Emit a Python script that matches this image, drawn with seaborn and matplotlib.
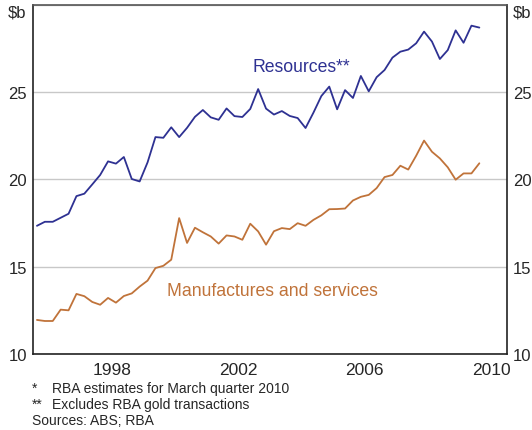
import numpy as np
import pandas as pd
import matplotlib.pyplot as plt
import seaborn as sns

# Quarterly data, March quarter 1996 to March quarter 2010 ($b)
quarters = pd.period_range("1996Q1", "2010Q1", freq="Q")

resources = [17.34, 17.57, 17.57, 17.80, 18.03, 19.04, 19.18, 19.71, 20.25, 21.03,
             20.90, 21.28, 20.02, 19.88, 20.97, 22.42, 22.38, 22.98, 22.42, 22.95,
             23.58, 23.97, 23.55, 23.41, 24.06, 23.62, 23.57, 24.03, 25.17, 24.05,
             23.71, 23.91, 23.63, 23.51, 22.94, 23.82, 24.77, 25.31, 24.01, 25.11,
             24.66, 25.92, 25.04, 25.85, 26.26, 26.97, 27.31, 27.43, 27.79, 28.46,
             27.89, 26.89, 27.40, 28.53, 27.82, 28.80, 28.69]

manufactures = [11.95, 11.89, 11.89, 12.54, 12.50, 13.44, 13.31, 12.98, 12.82, 13.21,
                12.94, 13.32, 13.47, 13.86, 14.20, 14.92, 15.05, 15.40, 17.78, 16.36,
                17.23, 16.97, 16.73, 16.32, 16.79, 16.73, 16.54, 17.46, 17.02, 16.26,
                17.03, 17.21, 17.15, 17.49, 17.34, 17.68, 17.94, 18.29, 18.30, 18.33,
                18.79, 19.00, 19.11, 19.50, 20.13, 20.25, 20.78, 20.56, 21.35, 22.22,
                21.58, 21.20, 20.69, 19.98, 20.34, 20.34, 20.92]

series_names = ["Resources**", "Manufactures and services"]
colors = {"Resources**": "#2e3192", "Manufactures and services": "#c0733a"}

year_pos = quarters.year + (quarters.quarter - 0.5) / 4
df = pd.DataFrame({
    "year": np.concatenate([year_pos, year_pos]),
    "value": resources + manufactures,
    "series": [series_names[0]] * len(resources) + [series_names[1]] * len(manufactures),
})

sns.set_style("white")
plt.rcParams["font.family"] = ["Liberation Sans", "DejaVu Sans"]

fig, ax = plt.subplots(figsize=(5.32, 4.31), dpi=100)
fig.subplots_adjust(left=33 / 532, right=507 / 532, bottom=(431 - 355) / 431, top=(431 - 5.7) / 431)

sns.lineplot(data=df, x="year", y="value", hue="series", palette=colors,
             linewidth=1.3, legend=False, ax=ax, zorder=3)

# Axes ranges and grid
ax.set_xlim(1996, 2011)
ax.set_ylim(10, 30)
ax.set_xlabel("")
ax.set_ylabel("")
ax.yaxis.grid(True, color="#c8c8c8", linewidth=1)
ax.xaxis.grid(False)
ax.set_axisbelow(True)

# Year boundary ticks, labels at mid year
ax.set_xticks(np.arange(1996, 2012))
ax.set_xticklabels([])
ax.tick_params(axis="x", which="major", direction="in", length=5, width=1, color="#222222")
ax.set_xticks([1998.5, 2002.5, 2006.5, 2010.5], minor=True)
ax.set_xticklabels(["1998", "2002", "2006", "2010"], minor=True)
ax.tick_params(axis="x", which="minor", length=0, pad=6, labelsize=12.5)

ax.set_yticks([10, 15, 20, 25, 30])
ax.set_yticklabels(["10", "15", "20", "25", "$b"])
ax.tick_params(axis="y", length=0, pad=4.5, labelsize=12, labelright=True, right=False)
top_tick = ax.yaxis.get_major_ticks()[-1]
top_tick.label1.set_va("top")
top_tick.label2.set_va("top")

for side, spine in ax.spines.items():
    spine.set_visible(True)
    spine.set_color("#222222")
    spine.set_linewidth(1.2)
ax.spines["top"].set_color("#555555")

# Series labels
ax.text(2004.49, 26.45, "Resources**", color=colors["Resources**"], fontsize=12.7,
        ha="center", va="center")
ax.text(2003.57, 13.63, "Manufactures and services", color=colors["Manufactures and services"],
        fontsize=12.7, ha="center", va="center")

# Footnotes
fig.text(32 / 532, 1 - 389 / 431, "*", fontsize=10, va="center")
fig.text(52 / 532, 1 - 389 / 431, "RBA estimates for March quarter 2010", fontsize=10, va="center")
fig.text(32 / 532, 1 - 405 / 431, "**", fontsize=10, va="center")
fig.text(52 / 532, 1 - 405 / 431, "Excludes RBA gold transactions", fontsize=10, va="center")
fig.text(32 / 532, 1 - 421 / 431, "Sources: ABS; RBA", fontsize=10, va="center")

plt.savefig("out.png", dpi=100)
